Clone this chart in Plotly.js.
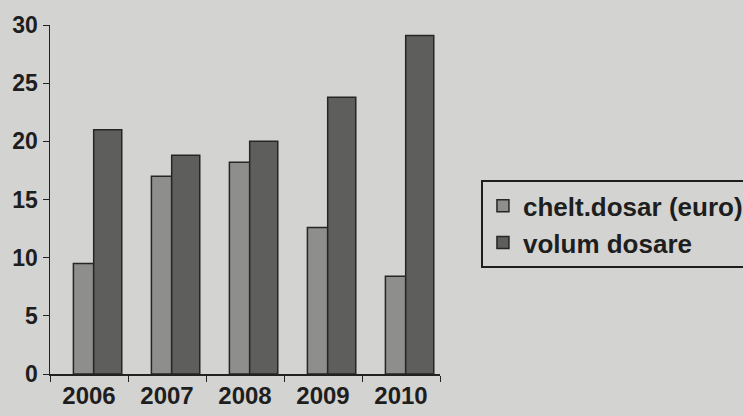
<!DOCTYPE html>
<html>
<head>
<meta charset="utf-8">
<script src="https://cdn.plot.ly/plotly-3.0.1.min.js"></script>
<style>html,body{margin:0;padding:0;background:#d3d3d1;}#chart{width:743px;height:416px;}</style>
</head>
<body>
<div id="chart"></div>
<script>
var years = ["2006", "2007", "2008", "2009", "2010"];
var cheltDosar = [9.5, 17.0, 18.2, 12.6, 8.4];
var volumDosare = [21.0, 18.8, 20.0, 23.8, 29.1];
var seriesNames = ["chelt.dosar (euro)", "volum dosare"];
var yTicks = [0, 5, 10, 15, 20, 25, 30];

var traces = [
  {type: "bar", x: years, y: cheltDosar, name: seriesNames[0],
   offset: -0.2, width: 0.26,
   marker: {color: "#8e8e8c", line: {color: "#262626", width: 1.5}}},
  {type: "bar", x: years, y: volumDosare, name: seriesNames[1],
   offset: 0.06, width: 0.36,
   marker: {color: "#5e5e5c", line: {color: "#262626", width: 1.5}}}
];

var layout = {
  width: 743, height: 416,
  paper_bgcolor: "#d3d3d1", plot_bgcolor: "#d3d3d1",
  margin: {l: 50, r: 303, t: 25, b: 42, autoexpand: false},
  barmode: "overlay",
  font: {family: "Liberation Sans, Arial, sans-serif", color: "#1e1e1e"},
  showlegend: true,
  xaxis: {
    type: "category", tickson: "boundaries", ticks: "outside", ticklen: 6,
    tickcolor: "#222", showline: true, linecolor: "#222", linewidth: 1.5,
    showgrid: false, zeroline: false,
    tickfont: {size: 24, family: "Liberation Sans, Arial, sans-serif", weight: "bold"}
  },
  yaxis: {
    range: [0, 30], tickvals: yTicks, ticks: "outside", ticklen: 6,
    tickcolor: "#222", showline: true, linecolor: "#222", linewidth: 1.5,
    showgrid: false, zeroline: false,
    tickfont: {size: 23, family: "Liberation Sans, Arial, sans-serif", weight: "bold"}
  },
  legend: {
    x: 1.105, y: 0.555, xanchor: "left", yanchor: "top",
    bgcolor: "#d3d3d1", bordercolor: "#1e1e1e", borderwidth: 2,
    font: {size: 26, family: "Liberation Sans, Arial, sans-serif", weight: "bold"},
    itemwidth: 30, tracegroupgap: 0
  }
};

Plotly.newPlot("chart", traces, layout, {staticPlot: true, displayModeBar: false});
</script>
</body>
</html>
